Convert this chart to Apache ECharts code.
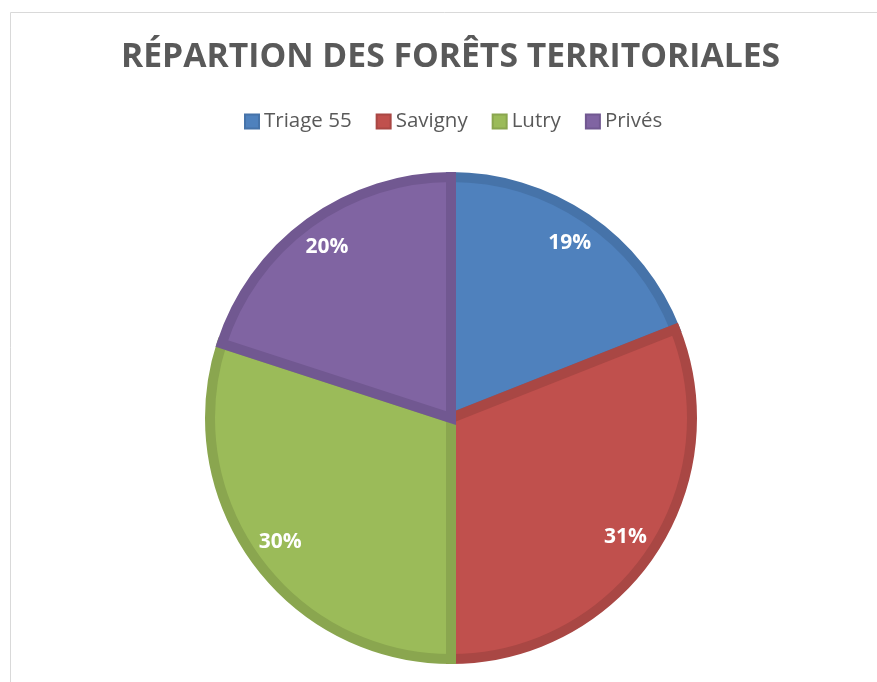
<!DOCTYPE html>
<html lang="fr">
<head>
    <meta charset="UTF-8">
    <title>Répartition des forêts territoriales</title>
    <script src="https://cdn.jsdelivr.net/npm/echarts@6/dist/echarts.min.js"></script>
    <style>
        html, body { margin: 0; padding: 0; background: #fff; }
        #pie { width: 877px; height: 682px; }
    </style>
</head>
<body>
<div id="pie"></div>
<script>
    // données
    var categories = ['Triage 55', 'Savigny', 'Lutry', 'Privés'];
    var values = [19, 31, 30, 20];
    var colors = ['#4F81BD', '#C0504D', '#9BBB59', '#8064A2'];
    var borderColors = ['#4673A9', '#A94744', '#8AA64F', '#715891'];

    var myChart = echarts.init(document.getElementById('pie'));

    var fillData = [], labelData = [];
    for (var i = 0; i < categories.length; i++) {
        fillData.push({
            name: categories[i],
            value: values[i],
            itemStyle: { color: colors[i], borderColor: borderColors[i] }
        });
        labelData.push({ name: categories[i], value: values[i] });
    }

    var center = [451, 418];

    var option = {
        animation: false,
        color: colors,
        title: {
            text: 'RÉPARTION DES FORÊTS TERRITORIALES',
            left: 116,
            top: 35,
            textStyle: {
                fontFamily: 'Open Sans',
                fontWeight: 'bold',
                fontSize: 33.7,
                color: '#595959'
            }
        },
        legend: {
            data: categories,
            top: 106,
            left: 239,
            itemWidth: 14,
            itemHeight: 14,
            itemGap: 24,
            icon: 'rect',
            textStyle: { fontFamily: 'Open Sans', fontSize: 20.5, color: '#595959' }
        },
        graphic: [{
            type: 'rect',
            shape: { x: 10.5, y: 12.5, width: 900, height: 700 },
            style: { fill: 'none', stroke: '#D9D9D9', lineWidth: 1 },
            silent: true
        }],
        series: [
            {
                name: 'Forêts',
                type: 'pie',
                center: center,
                radius: [0, 241],
                startAngle: 90,
                clockwise: true,
                label: { show: false },
                labelLine: { show: false },
                itemStyle: { borderWidth: 10, borderJoin: 'miter' },
                emphasis: { disabled: true },
                data: fillData
            },
            {
                name: 'Étiquettes',
                type: 'pie',
                center: center,
                radius: [170, 246],
                startAngle: 90,
                clockwise: true,
                silent: true,
                itemStyle: { color: 'rgba(0,0,0,0)' },
                label: {
                    show: true,
                    position: 'inside',
                    formatter: '{c}%',
                    fontFamily: 'Open Sans',
                    fontWeight: 'bold',
                    fontSize: 21,
                    color: '#fff'
                },
                labelLine: { show: false },
                emphasis: { disabled: true },
                data: labelData
            }
        ]
    };
    myChart.setOption(option);
</script>
</body>
</html>
